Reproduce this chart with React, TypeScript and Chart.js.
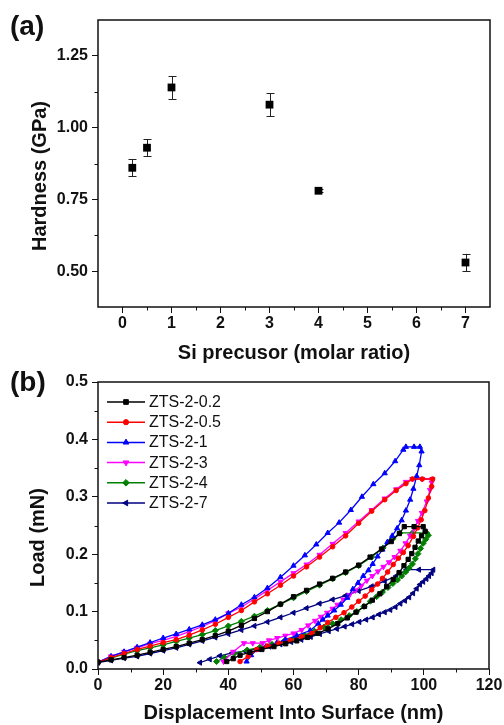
import React, { useEffect, useRef } from "react";
import { Chart, registerables } from "chart.js";
import { drawPoint } from "chart.js/helpers";

Chart.register(...registerables);

const FONT = "'Liberation Sans', Arial, Helvetica, sans-serif";
const INK = "#111111";

// ---------------- Panel (a): hardness vs Si precursor ----------------
const siRatio = [0.2, 0.5, 1, 3, 4, 7];
const hardness = [0.86, 0.93, 1.14, 1.08, 0.78, 0.53];
const hardnessErr = [0.03, 0.03, 0.04, 0.04, 0.005, 0.03];
const aXTicks = [0, 1, 2, 3, 4, 5, 6, 7];
const aXMinor = [0.5, 1.5, 2.5, 3.5, 4.5, 5.5, 6.5];
const aYTicks = [0.5, 0.75, 1.0, 1.25];
const aYMinor = [0.625, 0.875, 1.125];
const aXTitle = "Si precusor (molar ratio)";
const aYTitle = "Hardness (GPa)";

// ---------------- Panel (b): load-displacement curves ----------------
const seriesNames = ["ZTS-2-0.2", "ZTS-2-0.5", "ZTS-2-1", "ZTS-2-3", "ZTS-2-4", "ZTS-2-7"];
const seriesColors = ["#000000", "#ff0000", "#0000ff", "#ff00ff", "#008000", "#000080"];
const seriesMarkers = ["rect", "circle", "triangle", "triangle", "rectRot", "triangle"];
const seriesMarkerRotation = [0, 0, 0, 180, 0, 270];

const zts02 = [
  [0, 0.012], [4, 0.016], [8, 0.02], [12, 0.024], [16, 0.029], [20, 0.034], [24, 0.039], [28, 0.045],
  [32, 0.051], [36, 0.058], [40, 0.066], [44, 0.076], [48, 0.088], [52, 0.1], [56, 0.113], [60, 0.126],
  [64, 0.137], [68, 0.148], [72, 0.158], [76, 0.169], [80, 0.181], [83.5, 0.195], [87, 0.209], [90, 0.222],
  [92.5, 0.236], [94, 0.248], [97, 0.248], [99.8, 0.248],
  [100.4, 0.24], [99.3, 0.232], [98.3, 0.223], [97.3, 0.212], [96.3, 0.201], [95.2, 0.191], [93.9, 0.18],
  [92.4, 0.168], [90.6, 0.156], [88.6, 0.144], [86.5, 0.131], [84.2, 0.12], [81.8, 0.109], [79.2, 0.099],
  [76.5, 0.089], [73.6, 0.079], [70.6, 0.07], [67.5, 0.062], [64.3, 0.055], [61, 0.049], [57.6, 0.044],
  [54, 0.039], [50.3, 0.034], [46.6, 0.029], [43.6, 0.024], [41.5, 0.018], [39.5, 0.013],
];
const zts05 = [
  [0, 0.012], [4, 0.02], [8, 0.027], [12, 0.034], [16, 0.04], [20, 0.046], [24, 0.051], [28, 0.059],
  [32, 0.068], [36, 0.078], [40, 0.09], [44, 0.102], [48, 0.117], [52, 0.131], [56, 0.146], [60, 0.162],
  [64, 0.178], [68, 0.195], [72, 0.213], [76, 0.232], [80, 0.254], [84, 0.275], [88, 0.295], [91.5, 0.311],
  [94.5, 0.323], [96.5, 0.331], [99.5, 0.331], [102.7, 0.331],
  [102.4, 0.318], [101.4, 0.298], [100.3, 0.276], [99.2, 0.26], [98.1, 0.246], [96.8, 0.231], [95.2, 0.215],
  [93.7, 0.203], [92.2, 0.193], [90.6, 0.182], [88.9, 0.169], [87.3, 0.158], [85.8, 0.148], [84, 0.138],
  [82, 0.127], [80, 0.118], [77.9, 0.108], [75.5, 0.098], [73, 0.09], [70.5, 0.081], [68.2, 0.072],
  [65.6, 0.062], [62.5, 0.056], [59, 0.05], [55.5, 0.045], [52, 0.04], [48.7, 0.034], [46.1, 0.022], [43.6, 0.013],
];
const zts1 = [
  [0, 0.012], [4, 0.022], [8, 0.03], [12, 0.038], [16, 0.046], [20, 0.054], [24, 0.061], [28, 0.069],
  [32, 0.077], [36, 0.086], [40, 0.097], [44, 0.112], [48, 0.125], [52, 0.141], [56, 0.16], [60, 0.18],
  [63.5, 0.198], [67, 0.217], [70.5, 0.237], [74, 0.255], [77.6, 0.277], [81, 0.3], [84.5, 0.322],
  [88, 0.341], [91.2, 0.362], [93.7, 0.382], [94.5, 0.387], [97, 0.387], [98.8, 0.387],
  [99.3, 0.379], [98.6, 0.355], [97.8, 0.336], [96.8, 0.314], [95.8, 0.295], [94.5, 0.276], [93.2, 0.259],
  [91.8, 0.245], [90.3, 0.232], [88.8, 0.221], [87.3, 0.208], [85.8, 0.196], [84.3, 0.183], [83, 0.172],
  [81.4, 0.162], [79.8, 0.15], [78.2, 0.139], [76.5, 0.124], [74.5, 0.112], [72.5, 0.102], [70.5, 0.093],
  [69, 0.086], [67.6, 0.079], [65.1, 0.067], [61, 0.058], [57.5, 0.051], [54.8, 0.045], [51.5, 0.039],
  [48.7, 0.033], [47, 0.024], [45.6, 0.013],
];
const zts3 = [
  [0, 0.012], [4, 0.022], [8, 0.03], [12, 0.037], [16, 0.044], [20, 0.05], [24, 0.057], [28, 0.065],
  [32, 0.074], [36, 0.084], [40, 0.097], [44, 0.108], [48, 0.122], [52, 0.137], [56, 0.152], [60, 0.167],
  [64, 0.182], [68, 0.199], [72, 0.218], [76, 0.237], [80, 0.257], [84, 0.277], [88, 0.297], [91.5, 0.313],
  [94.5, 0.326], [96.5, 0.331], [99.5, 0.331], [102.6, 0.331],
  [102.4, 0.325], [101.9, 0.312], [100.9, 0.292], [99.4, 0.272], [98.2, 0.258], [97.1, 0.246], [95.8, 0.232],
  [94.4, 0.219], [92.8, 0.206], [91, 0.195], [89.3, 0.186], [87.6, 0.178], [85.9, 0.17], [84.2, 0.162],
  [82.5, 0.154], [80.8, 0.145], [79, 0.137], [77.2, 0.129], [75.3, 0.121], [73.5, 0.112], [72, 0.105],
  [70.3, 0.098], [68.4, 0.091], [66.6, 0.084], [64.5, 0.076], [62.5, 0.068], [60, 0.062], [57.5, 0.058],
  [55, 0.054], [52.5, 0.05], [50.5, 0.045], [47.5, 0.045], [44.8, 0.045], [41.5, 0.03], [38.5, 0.013],
];
const zts4 = [
  [0, 0.012], [4, 0.019], [8, 0.026], [12, 0.032], [16, 0.037], [20, 0.042], [24, 0.048], [28, 0.054],
  [32, 0.06], [36, 0.067], [40, 0.075], [44, 0.083], [48, 0.092], [52, 0.102], [56, 0.113], [60, 0.124],
  [64, 0.135], [68, 0.146], [72, 0.157], [76, 0.168], [80, 0.18], [84, 0.195], [87.5, 0.211], [90.5, 0.227],
  [92.7, 0.237], [96.5, 0.237], [100.9, 0.237],
  [101.4, 0.233], [100.6, 0.226], [99.8, 0.219], [99, 0.21], [98.2, 0.201], [97.4, 0.192], [96.5, 0.183],
  [95.5, 0.176], [94.4, 0.169], [93.2, 0.162], [91.9, 0.155], [90.5, 0.149], [89, 0.142], [87.3, 0.134],
  [85.5, 0.126], [83.6, 0.118], [81.6, 0.109], [79.4, 0.1], [77.1, 0.093], [74.6, 0.086], [72, 0.079],
  [69.3, 0.073], [66.4, 0.066], [63.4, 0.059], [60.3, 0.053], [57, 0.048], [53.4, 0.043], [49.7, 0.038],
  [45.8, 0.033], [41.8, 0.027], [38.8, 0.02], [36.4, 0.013],
];
const zts7 = [
  [0, 0.011], [4, 0.015], [8, 0.019], [12, 0.022], [16, 0.027], [20, 0.032], [24, 0.037], [28, 0.043],
  [32, 0.049], [36, 0.055], [40, 0.061], [44, 0.068], [48, 0.075], [52, 0.082], [56, 0.09], [60, 0.098],
  [64, 0.106], [68, 0.114], [72, 0.121], [76, 0.128], [80, 0.136], [84, 0.144], [88, 0.153], [91.5, 0.162],
  [94.7, 0.173], [98.5, 0.173], [102.9, 0.173],
  [102.4, 0.167], [101.6, 0.162], [100.8, 0.157], [99.8, 0.152], [98.8, 0.147], [97.8, 0.14], [96.7, 0.132],
  [95.5, 0.125], [94.2, 0.119], [92.8, 0.114], [91.3, 0.108], [89.7, 0.103], [88, 0.099], [86.2, 0.095],
  [84.3, 0.09], [82.3, 0.086], [80.2, 0.082], [78, 0.078], [75.7, 0.074], [73.3, 0.07], [70.8, 0.066],
  [68.1, 0.061], [65.3, 0.056], [62.4, 0.051], [59.3, 0.047], [56, 0.043], [52.6, 0.039], [49, 0.035],
  [45.2, 0.031], [41.2, 0.028], [37.4, 0.023], [34.3, 0.017], [31.3, 0.011],
];
const curves = [zts02, zts05, zts1, zts3, zts4, zts7];

const bXTicks = [0, 20, 40, 60, 80, 100, 120];
const bXMinor = [10, 30, 50, 70, 90, 110];
const bYTicks = [0.0, 0.1, 0.2, 0.3, 0.4, 0.5];
const bYMinor = [0.05, 0.15, 0.25, 0.35, 0.45];
const bXTitle = "Displacement Into Surface (nm)";
const bYTitle = "Load (mN)";

// ---------------- plugins ----------------
const frameMinorPlugin = (minorX: number[], minorY: number[]) => ({
  id: "frameMinor",
  afterDraw(chart: any) {
    const { ctx, chartArea } = chart;
    const { left, right, top, bottom } = chartArea;
    const xs = chart.scales.x;
    const ys = chart.scales.y;
    ctx.save();
    ctx.strokeStyle = INK;
    ctx.lineWidth = 1;
    ctx.beginPath();
    minorX.forEach((v) => {
      const px = Math.round(xs.getPixelForValue(v)) + 0.5;
      ctx.moveTo(px, bottom);
      ctx.lineTo(px, bottom + 3.5);
    });
    minorY.forEach((v) => {
      const py = Math.round(ys.getPixelForValue(v)) + 0.5;
      ctx.moveTo(left, py);
      ctx.lineTo(left - 3.5, py);
    });
    ctx.stroke();
    ctx.lineWidth = 1.5;
    ctx.strokeRect(left, top, right - left, bottom - top);
    ctx.restore();
  },
});

const yTitlePlugin = (text: string, cx: number, cy: number) => ({
  id: "yTitle",
  afterDraw(chart: any) {
    const { ctx } = chart;
    ctx.save();
    ctx.translate(cx, cy);
    ctx.rotate(-Math.PI / 2);
    ctx.font = `bold 20px ${FONT}`;
    ctx.fillStyle = INK;
    ctx.textAlign = "center";
    ctx.textBaseline = "middle";
    ctx.fillText(text, 0, 0);
    ctx.restore();
  },
});

const errorBarPlugin = {
  id: "errorBars",
  beforeDatasetsDraw(chart: any) {
    const { ctx } = chart;
    const xs = chart.scales.x;
    const ys = chart.scales.y;
    ctx.save();
    ctx.strokeStyle = "#222222";
    ctx.lineWidth = 1;
    ctx.beginPath();
    siRatio.forEach((xv, i) => {
      const px = Math.round(xs.getPixelForValue(xv)) + 0.5;
      const yTop = ys.getPixelForValue(hardness[i] + hardnessErr[i]);
      const yBot = ys.getPixelForValue(hardness[i] - hardnessErr[i]);
      ctx.moveTo(px, yTop);
      ctx.lineTo(px, yBot);
      ctx.moveTo(px - 4, Math.round(yTop) + 0.5);
      ctx.lineTo(px + 4, Math.round(yTop) + 0.5);
      ctx.moveTo(px - 4, Math.round(yBot) + 0.5);
      ctx.lineTo(px + 4, Math.round(yBot) + 0.5);
    });
    ctx.stroke();
    ctx.restore();
  },
};

const insideLegendPlugin = {
  id: "insideLegend",
  afterDraw(chart: any) {
    const { ctx, chartArea } = chart;
    ctx.save();
    chart.data.datasets.forEach((ds: any, i: number) => {
      const y = chartArea.top + 20 + i * 20.2;
      const x0 = chartArea.left + 9;
      const x1 = chartArea.left + 47;
      ctx.strokeStyle = ds.borderColor;
      ctx.lineWidth = 1.5;
      ctx.beginPath();
      ctx.moveTo(x0, y);
      ctx.lineTo(x1, y);
      ctx.stroke();
      ctx.fillStyle = ds.pointBackgroundColor;
      ctx.strokeStyle = ds.pointBorderColor;
      ctx.lineWidth = 1;
      drawPoint(
        ctx,
        { pointStyle: ds.pointStyle, rotation: ds.pointRotation, radius: ds.pointRadius + 0.3, borderWidth: 1 },
        (x0 + x1) / 2,
        y
      );
      ctx.fillStyle = INK;
      ctx.font = `16px ${FONT}`;
      ctx.textAlign = "left";
      ctx.textBaseline = "middle";
      ctx.fillText(ds.label, x1 + 4, y + 0.5);
    });
    ctx.restore();
  },
};

const tickFont = { family: FONT, size: 16, weight: "bold" as const };
const titleFont = { family: FONT, size: 20, weight: "bold" as const };

function axisGrid() {
  return {
    display: true,
    drawOnChartArea: false,
    drawTicks: true,
    tickLength: 6,
    tickColor: INK,
    tickWidth: 1,
  };
}

function HardnessChart() {
  const ref = useRef<HTMLCanvasElement | null>(null);
  useEffect(() => {
    if (!ref.current) return;
    const chart = new Chart(ref.current, {
      type: "scatter",
      data: {
        datasets: [
          {
            label: "Hardness",
            data: siRatio.map((x, i) => ({ x, y: hardness[i] })),
            pointStyle: "rect",
            pointRadius: 5.5,
            pointBackgroundColor: "#000000",
            pointBorderColor: "#000000",
            pointBorderWidth: 0,
            showLine: false,
          },
        ],
      },
      options: {
        animation: false,
        responsive: false,
        devicePixelRatio: 1,
        layout: { padding: { left: 0, right: 14, top: 20, bottom: 0 } },
        plugins: { legend: { display: false }, tooltip: { enabled: false } },
        scales: {
          x: {
            type: "linear",
            min: -0.5,
            max: 7.5,
            afterBuildTicks: (s: any) => {
              s.ticks = aXTicks.map((v) => ({ value: v }));
            },
            afterFit: (s: any) => {
              s.height = 58;
            },
            grid: axisGrid(),
            border: { display: false },
            ticks: {
              font: tickFont,
              color: INK,
              padding: 1,
              maxRotation: 0,
              autoSkip: false,
              callback: (v: any) => String(v),
            },
            title: { display: true, text: aXTitle, font: titleFont, color: INK, padding: { top: 0, bottom: 0 } },
          },
          y: {
            type: "linear",
            min: 0.375,
            max: 1.375,
            afterBuildTicks: (s: any) => {
              s.ticks = aYTicks.map((v) => ({ value: v }));
            },
            afterFit: (s: any) => {
              s.width = 98;
            },
            grid: axisGrid(),
            border: { display: false },
            ticks: {
              font: tickFont,
              color: INK,
              padding: 4,
              autoSkip: false,
              callback: (v: any) => Number(v).toFixed(2),
            },
            title: { display: false },
          },
        },
      },
      plugins: [frameMinorPlugin(aXMinor, aYMinor), errorBarPlugin, yTitlePlugin(aYTitle, 40, 176)],
    } as any);
    return () => chart.destroy();
  }, []);
  return <canvas ref={ref} width={504} height={365} style={{ display: "block", width: 504, height: 365 }} />;
}

function LoadChart() {
  const ref = useRef<HTMLCanvasElement | null>(null);
  useEffect(() => {
    if (!ref.current) return;
    const chart = new Chart(ref.current, {
      type: "scatter",
      data: {
        datasets: curves.map((c, i) => ({
          label: seriesNames[i],
          data: c.map(([x, y]) => ({ x, y })),
          showLine: true,
          borderColor: seriesColors[i],
          borderWidth: 1.3,
          backgroundColor: seriesColors[i],
          pointStyle: seriesMarkers[i],
          pointRotation: seriesMarkerRotation[i],
          pointRadius: seriesMarkers[i] === "circle" ? 2.3 : seriesMarkers[i] === "rect" ? 3 : 3,
          pointBackgroundColor: seriesColors[i],
          pointBorderColor: seriesColors[i],
          pointBorderWidth: 1,
          tension: 0,
        })),
      },
      options: {
        animation: false,
        responsive: false,
        devicePixelRatio: 1,
        layout: { padding: { left: 0, right: 15, top: 17, bottom: 0 } },
        plugins: { legend: { display: false }, tooltip: { enabled: false } },
        scales: {
          x: {
            type: "linear",
            min: 0,
            max: 120,
            afterBuildTicks: (s: any) => {
              s.ticks = bXTicks.map((v) => ({ value: v }));
            },
            afterFit: (s: any) => {
              s.height = 56;
            },
            grid: axisGrid(),
            border: { display: false },
            ticks: {
              font: tickFont,
              color: INK,
              padding: 1,
              maxRotation: 0,
              autoSkip: false,
              callback: (v: any) => String(v),
            },
            title: { display: true, text: bXTitle, font: titleFont, color: INK, padding: { top: 0, bottom: 0 } },
          },
          y: {
            type: "linear",
            min: 0,
            max: 0.5,
            afterBuildTicks: (s: any) => {
              s.ticks = bYTicks.map((v) => ({ value: v }));
            },
            afterFit: (s: any) => {
              s.width = 98;
            },
            grid: axisGrid(),
            border: { display: false },
            ticks: {
              font: tickFont,
              color: INK,
              padding: 4,
              autoSkip: false,
              callback: (v: any) => Number(v).toFixed(1),
            },
            title: { display: false },
          },
        },
      },
      plugins: [frameMinorPlugin(bXMinor, bYMinor), insideLegendPlugin, yTitlePlugin(bYTitle, 38, 172.5)],
    } as any);
    return () => chart.destroy();
  }, []);
  return <canvas ref={ref} width={504} height={360} style={{ display: "block", width: 504, height: 360 }} />;
}

const panelLabelStyle: React.CSSProperties = {
  position: "absolute",
  left: 10,
  fontFamily: FONT,
  fontWeight: "bold",
  fontSize: 28,
  lineHeight: "28px",
  color: INK,
};

export default function App() {
  return (
    <div style={{ position: "absolute", left: 0, top: 0, width: 504, height: 725, background: "#ffffff", overflow: "hidden" }}>
      <div style={{ position: "absolute", left: 0, top: 0 }}>
        <HardnessChart />
      </div>
      <div style={{ position: "absolute", left: 0, top: 365 }}>
        <LoadChart />
      </div>
      <div style={{ ...panelLabelStyle, top: 12 }}>(a)</div>
      <div style={{ ...panelLabelStyle, top: 368 }}>(b)</div>
    </div>
  );
}
